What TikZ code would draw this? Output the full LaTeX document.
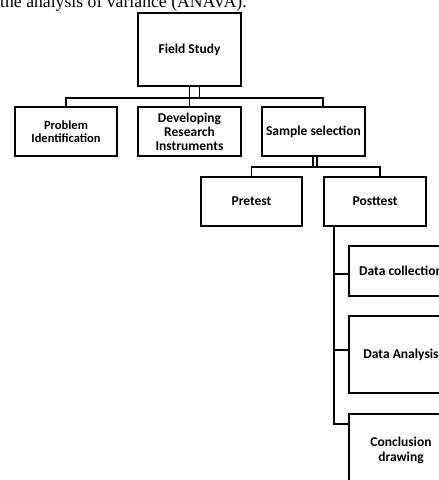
\documentclass[tikz,border=0pt]{standalone}
\usepackage{fontspec}
\setmainfont{Liberation Serif}
\newfontfamily\boxfont{Carlito}
\tikzset{stage/.style={draw = black, line width = 1.4pt, fill = white, inner sep = 0pt, align = center, font = \boxfont\bfseries\fontsize{13.5}{14}\selectfont},
link/.style={draw = black, line width = 1.2pt}}
\begin{document}
\begin{tikzpicture}[x=1pt,y=-1pt]
\useasboundingbox (0,0) rectangle (439,480);
\clip (0,0) rectangle (439,480);
\node[anchor=base west, inner sep=0pt, font=\fontsize{17.7}{20}\selectfont] (caption) at (0,7.5) {the analysis of variance (ANAVA).};
\node[stage, minimum width=103pt, minimum height=73pt] (field) at (189.5,49.5) {Field Study};
%Level II
\node[stage, minimum width=102pt, minimum height=49pt, font=\boxfont\bfseries\fontsize{12.5}{13}\selectfont] (problem) at (66,131.5) {Problem\\Identification};
\node[stage, minimum width=103pt, minimum height=49pt] (develop) at (189.5,131.5) {Developing\\Research\\Instruments};
\node[stage, minimum width=103pt, minimum height=49pt] (sample) at (313.5,131.5) {Sample selection};
%Level III
\node[stage, minimum width=101pt, minimum height=49pt] (pretest) at (251.5,201.5) {Pretest};
\node[stage, minimum width=102pt, minimum height=49pt] (posttest) at (375,201.5) {Posttest};
%Level IV
\node[stage, minimum width=104pt, minimum height=50pt] (collect) at (401,271) {Data collection};
\node[stage, minimum width=104pt, minimum height=77pt] (analysis) at (401,354.5) {Data Analysis};
\node[stage, minimum width=104pt, minimum height=72pt, font=\boxfont\bfseries\fontsize{13.5}{15}\selectfont] (conclude) at (401,450) {Conclusion\\drawing};
\coordinate (bar1) at (189,98);
\coordinate (bar2) at (315,167);
\draw[link] (problem.north) -- (problem.north |- bar1) -- ([xshift=9.5pt]sample.north |- bar1) -- ([xshift=9.5pt]sample.north);
\draw[link] (field.south) -- (develop.north);
\draw[link] ([xshift=10pt]field.south) -- ([xshift=10pt]field.south |- bar1);
\draw[link] (pretest.north) -- (pretest.north |- bar2) -- ([xshift=5pt]posttest.north |- bar2) -- ([xshift=5pt]posttest.north);
\draw[link] ([xshift=-0.5pt]sample.south) -- ([xshift=-0.5pt]sample.south |- bar2);
\draw[link] ([xshift=3.5pt]sample.south) -- ([xshift=3.5pt]sample.south |- bar2);
\draw[link] ([xshift=-41pt]posttest.south) |- (conclude.west |- 0,424);
\draw[link] ([xshift=-41pt]posttest.south |- collect.west) ++(0,3) -- ([yshift=-3pt]collect.west);
\draw[link] ([xshift=-41pt]posttest.south |- analysis.west) ++(0,-4.5) -- ([yshift=4.5pt]analysis.west);
\end{tikzpicture}
\end{document}
